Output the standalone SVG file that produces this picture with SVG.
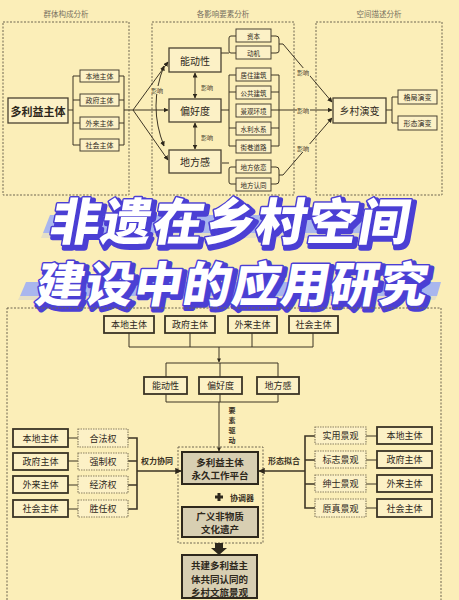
<svg xmlns="http://www.w3.org/2000/svg" width="459" height="600" viewBox="0 0 459 600">
<defs>
<style>
.t{font-family:"Noto Sans CJK SC","Liberation Sans",sans-serif;fill:#2e281c;text-anchor:middle;dominant-baseline:central}
.cap{font-family:"Noto Sans CJK SC","Liberation Sans",sans-serif;fill:#777060;font-size:7.5px;text-anchor:middle;dominant-baseline:central}
.lab{font-family:"Noto Sans CJK SC","Liberation Sans",sans-serif;fill:#3a3325;font-size:6px;text-anchor:middle;dominant-baseline:central}
.lab2{font-family:"Noto Sans CJK SC","Liberation Sans",sans-serif;fill:#3a3325;font-size:8px;font-weight:bold;text-anchor:middle;dominant-baseline:central}
.lab3{font-family:"Noto Sans CJK SC","Liberation Sans",sans-serif;fill:#3a3325;font-size:7px;font-weight:bold;text-anchor:middle;dominant-baseline:central}
.dash{fill:none;stroke:#6e6650;stroke-width:1;stroke-dasharray:2 1.5}
.b{fill:#FCF1C6;stroke:#4a4232;stroke-width:1.3}
.bs{fill:#FCF1C6;stroke:#4a4232;stroke-width:1}
.bd{fill:#FCF1C6;stroke:#8a8062;stroke-width:1.2;stroke-dasharray:1.5 1}
.bt{fill:#FCF1C6;stroke:#3a3325;stroke-width:1.8}
.pf{fill:#D8CFB2;stroke:#2e281c;stroke-width:2}
.ln{fill:none;stroke:#3d3525;stroke-width:1}
.lnb{fill:none;stroke:#3d3525;stroke-width:1.6}
.title{font-family:"Noto Sans CJK SC",sans-serif;font-weight:900;text-anchor:middle}
</style>
<marker id="ah" viewBox="0 0 10 10" refX="9" refY="5" markerWidth="5" markerHeight="5" orient="auto-start-reverse">
<path d="M0,0 L10,5 L0,10 z" fill="#2e281c"/>
</marker>
<marker id="ahb" viewBox="0 0 10 10" refX="9" refY="5" markerWidth="4" markerHeight="4" orient="auto-start-reverse">
<path d="M0,0 L10,5 L0,10 z" fill="#2e281c"/>
</marker>
</defs>
<rect width="459" height="600" fill="#FBEEB8"/>

<!-- TOP SECTION -->
<g id="top-frames">
<text class="cap" x="66" y="13">群体构成分析</text>
<text class="cap" x="223" y="13">各影响要素分析</text>
<text class="cap" x="379" y="13">空间描述分析</text>
<rect class="dash" x="3" y="22" width="126" height="173"/>
<rect class="dash" x="152" y="22" width="142" height="173"/>
<rect class="dash" x="316" y="22" width="126" height="173"/>
</g>

<g id="connectors-top">
<path class="ln" d="M68,110 H73 M80,76 H73 V145 H80 M73,100 H80 M73,123 H80"/>
<path class="ln" d="M119,76 H124 V145 H119 M119,100 H124 M119,123 H124 M124,110 H133"/>
<line class="ln" x1="133" y1="110" x2="168" y2="62" marker-end="url(#ah)"/>
<line class="ln" x1="133" y1="110" x2="168" y2="110" marker-end="url(#ah)"/>
<line class="ln" x1="133" y1="110" x2="168" y2="160" marker-end="url(#ah)"/>
<path class="ln" d="M164,66 Q148,106 164,146" marker-start="url(#ah)" marker-end="url(#ah)"/>
<line class="ln" x1="195" y1="73" x2="195" y2="98" marker-start="url(#ah)" marker-end="url(#ah)"/>
<line class="ln" x1="195" y1="123" x2="195" y2="149" marker-start="url(#ah)" marker-end="url(#ah)"/>
<path class="ln" d="M221,53 H229 M236,36 H231 Q229,36 229,38 V51 Q229,53 231,53 H236"/>
<path class="ln" d="M221,110 H229 M236,75 H229 V146 H236 M229,92 H236 M229,128 H236"/>
<path class="ln" d="M222,163 H229 M236,167 H231 Q229,167 229,169 V182 Q229,184 231,184 H236"/>
<path class="ln" d="M271,36 H276 Q279,36 279,39 V51 Q279,53 276,53 H271 M279,44 H283"/>
<path class="ln" d="M271,75 H279 V146 H271 M271,92 H279 M271,110 H279 M271,128 H279"/>
<path class="ln" d="M271,167 H276 Q279,167 279,170 V181 Q279,184 276,184 H271 M279,175 H283"/>
<line class="ln" x1="283" y1="44" x2="332" y2="102" marker-end="url(#ah)"/>
<line class="ln" x1="279" y1="110" x2="332" y2="110" marker-end="url(#ah)"/>
<line class="ln" x1="283" y1="175" x2="332" y2="118" marker-end="url(#ah)"/>
<path class="ln" d="M386,110 H392 M398,97 H392 V123 H398"/>
<rect x="151" y="86" width="12" height="8" fill="#FBEEB8"/>
<text class="lab" x="157" y="90">影响</text>
<text class="lab" x="207" y="87">影响</text>
<text class="lab" x="207" y="137">影响</text>
<rect x="297" y="68" width="13" height="8" fill="#FBEEB8"/>
<text class="lab" x="303" y="72">影响</text>
<rect x="297" y="106" width="13" height="8" fill="#FBEEB8"/>
<text class="lab" x="303" y="110">影响</text>
<rect x="297" y="144" width="13" height="8" fill="#FBEEB8"/>
<text class="lab" x="303" y="148">影响</text>
</g>

<g id="n-duoliyi"><rect class="b" x="8" y="98" width="60" height="25"/><text class="t" x="38" y="110.5" font-size="11" font-weight="bold">多利益主体</text></g>
<g id="n-bendi1"><rect class="bs" x="80" y="70" width="39" height="12"/><text class="t" x="99.5" y="76" font-size="7">本地主体</text></g>
<g id="n-zhengfu1"><rect class="bs" x="80" y="94" width="39" height="12"/><text class="t" x="99.5" y="100" font-size="7">政府主体</text></g>
<g id="n-wailai1"><rect class="bs" x="80" y="117" width="39" height="12"/><text class="t" x="99.5" y="123" font-size="7">外来主体</text></g>
<g id="n-shehui1"><rect class="bs" x="80" y="139" width="39" height="12"/><text class="t" x="99.5" y="145" font-size="7">社会主体</text></g>

<g id="n-nengdong1"><rect class="b" x="169" y="48" width="52" height="24"/><text class="t" x="195" y="60" font-size="10">能动性</text></g>
<g id="n-pianhao1"><rect class="b" x="169" y="99" width="52" height="23"/><text class="t" x="195" y="110.5" font-size="10">偏好度</text></g>
<g id="n-difang1"><rect class="b" x="169" y="150" width="52" height="23"/><text class="t" x="195" y="161.5" font-size="10">地方感</text></g>

<g id="n-ziben"><rect class="bs" x="236" y="29" width="35" height="13"/><text class="t" x="253.5" y="35.5" font-size="6.5">资本</text></g>
<g id="n-dongji"><rect class="bs" x="236" y="46" width="35" height="13"/><text class="t" x="253.5" y="52.5" font-size="6.5">动机</text></g>
<g id="n-juzhu"><rect class="bs" x="236" y="68" width="35" height="13"/><text class="t" x="253.5" y="74.5" font-size="6.5">居住建筑</text></g>
<g id="n-gonggong"><rect class="bs" x="236" y="86" width="35" height="13"/><text class="t" x="253.5" y="92.5" font-size="6.5">公共建筑</text></g>
<g id="n-jingguan"><rect class="bs" x="236" y="104" width="35" height="13"/><text class="t" x="253.5" y="110.5" font-size="6.5">景观环境</text></g>
<g id="n-shuili"><rect class="bs" x="236" y="122" width="35" height="13"/><text class="t" x="253.5" y="128.5" font-size="6.5">水利水系</text></g>
<g id="n-jiexiang"><rect class="bs" x="236" y="140" width="35" height="13"/><text class="t" x="253.5" y="146.5" font-size="6.5">街巷道路</text></g>
<g id="n-yilian"><rect class="bs" x="236" y="160" width="35" height="13"/><text class="t" x="253.5" y="166.5" font-size="6.5">地方依恋</text></g>
<g id="n-rentong"><rect class="bs" x="236" y="178" width="35" height="13"/><text class="t" x="253.5" y="184.5" font-size="6.5">地方认同</text></g>

<g id="n-xiangcun"><rect class="b" x="333" y="98" width="53" height="25"/><text class="t" x="359.5" y="110.5" font-size="10">乡村演变</text></g>
<g id="n-geju"><rect class="bs" x="398" y="90" width="39" height="14"/><text class="t" x="417.5" y="97" font-size="7">格局演变</text></g>
<g id="n-xingtai"><rect class="bs" x="398" y="116" width="39" height="14"/><text class="t" x="417.5" y="123" font-size="7">形态演变</text></g>

<!-- TITLE -->
<g id="title">
<polygon points="50,215 412,215 406,233 43,233" fill="#A9B6EE"/>
<polygon points="43,233 406,233 404,238 41,238" fill="#DCD8CC" opacity="0.7"/>
<polygon points="26,282 441,282 437,296 20,296" fill="#A9B6EE"/>
<polygon points="20,296 437,296 435,300 18,300" fill="#DCD8CC" opacity="0.7"/>
<g transform="translate(228,240) skewX(-10)">
<text class="title" x="3" y="3" font-size="50" letter-spacing="1.5" fill="#4B3FD4" stroke="#4B3FD4" stroke-width="6" stroke-linejoin="round">非遗在乡村空间</text>
<text class="title" x="0" y="0" font-size="50" letter-spacing="1.5" fill="#FFFFFF" stroke="#4B3FD4" stroke-width="3" stroke-linejoin="round" paint-order="stroke">非遗在乡村空间</text>
</g>
<g transform="translate(230,302) skewX(-10)">
<text class="title" x="3" y="3" font-size="48" letter-spacing="1" fill="#4B3FD4" stroke="#4B3FD4" stroke-width="6" stroke-linejoin="round">建设中的应用研究</text>
<text class="title" x="0" y="0" font-size="48" letter-spacing="1" fill="#FFFFFF" stroke="#4B3FD4" stroke-width="3" stroke-linejoin="round" paint-order="stroke">建设中的应用研究</text>
</g>
</g>

<!-- BOTTOM SECTION -->
<rect class="dash" x="7" y="308" width="434" height="300"/>

<g id="connectors-bottom">
<path class="ln" d="M129,333 V347 M190,333 V347 M252,333 V347 M313,333 V347 M129,347 H313"/>
<line class="ln" x1="219" y1="347" x2="219" y2="362" marker-end="url(#ahb)"/>
<path class="ln" d="M166,377 V363 H278 V377 M220,363 V377"/>
<path class="ln" d="M166,394 V402 H278 V394 M220,394 V402"/>
<line class="ln" x1="219" y1="402" x2="219" y2="451" marker-end="url(#ahb)"/>
<text class="lab3" x="232" y="410">要</text>
<text class="lab3" x="232" y="420">素</text>
<text class="lab3" x="232" y="430">驱</text>
<text class="lab3" x="232" y="440">动</text>
<rect class="dash" x="178" y="447" width="85" height="96"/>
<path class="ln" d="M68,438 H78 M68,461 H78 M68,485 H78 M68,509 H78"/>
<path class="lnb" d="M128,438 H137 V509 H128 M128,461 H137 M128,485 H137"/>
<line class="lnb" x1="137" y1="471" x2="181" y2="471" marker-end="url(#ahb)"/>
<text class="lab2" x="157" y="460">权力协同</text>
<path class="ln" d="M366,436 H377 M366,460 H377 M366,484 H377 M366,508 H377"/>
<path class="lnb" d="M315,436 H305 V508 H315 M315,460 H305 M315,484 H305"/>
<line class="lnb" x1="305" y1="471" x2="259" y2="471" marker-end="url(#ahb)"/>
<text class="lab2" x="284" y="460">形态拟合</text>
<path d="M215,497 H223 M219,493 V501" stroke="#2e281c" stroke-width="3" fill="none"/>
<text class="lab2" x="242" y="497">协调器</text>
<path d="M215,543 H223 V548 H227 L219,555 L211,548 H215 Z" fill="#2e281c"/>
</g>

<g id="n-bendi2"><rect class="bt" x="104" y="316" width="50" height="17"/><text class="t" x="129" y="324.5" font-size="9">本地主体</text></g>
<g id="n-zhengfu2"><rect class="bt" x="165" y="316" width="50" height="17"/><text class="t" x="190" y="324.5" font-size="9">政府主体</text></g>
<g id="n-wailai2"><rect class="bt" x="228" y="316" width="49" height="17"/><text class="t" x="252.5" y="324.5" font-size="9">外来主体</text></g>
<g id="n-shehui2"><rect class="bt" x="289" y="316" width="49" height="17"/><text class="t" x="313.5" y="324.5" font-size="9">社会主体</text></g>

<g id="n-nengdong2"><rect class="bt" x="144" y="377" width="43" height="17"/><text class="t" x="165.5" y="385.5" font-size="9">能动性</text></g>
<g id="n-pianhao2"><rect class="bt" x="199" y="377" width="43" height="17"/><text class="t" x="220.5" y="385.5" font-size="9">偏好度</text></g>
<g id="n-difang2"><rect class="bt" x="257" y="377" width="42" height="17"/><text class="t" x="278" y="385.5" font-size="9">地方感</text></g>

<g id="n-l-bendi"><rect class="bt" x="13" y="429" width="55" height="18"/><text class="t" x="40.5" y="438" font-size="9">本地主体</text></g>
<g id="n-l-zhengfu"><rect class="bt" x="13" y="453" width="55" height="17"/><text class="t" x="40.5" y="461.5" font-size="9">政府主体</text></g>
<g id="n-l-wailai"><rect class="bt" x="13" y="476" width="55" height="17"/><text class="t" x="40.5" y="484.5" font-size="9">外来主体</text></g>
<g id="n-l-shehui"><rect class="bt" x="13" y="500" width="55" height="17"/><text class="t" x="40.5" y="508.5" font-size="9">社会主体</text></g>

<g id="n-hefa"><rect class="bd" x="78" y="429" width="50" height="18"/><text class="t" x="103" y="438" font-size="9">合法权</text></g>
<g id="n-qiangzhi"><rect class="bd" x="78" y="453" width="50" height="17"/><text class="t" x="103" y="461.5" font-size="9">强制权</text></g>
<g id="n-jingji"><rect class="bd" x="78" y="476" width="50" height="17"/><text class="t" x="103" y="484.5" font-size="9">经济权</text></g>
<g id="n-shengren"><rect class="bd" x="78" y="500" width="50" height="17"/><text class="t" x="103" y="508.5" font-size="9">胜任权</text></g>

<g id="n-shiyong"><rect class="bd" x="315" y="427" width="51" height="17"/><text class="t" x="340.5" y="435.5" font-size="9">实用景观</text></g>
<g id="n-biaozhi"><rect class="bd" x="315" y="451" width="51" height="17"/><text class="t" x="340.5" y="459.5" font-size="9">标志景观</text></g>
<g id="n-shenshi"><rect class="bd" x="315" y="475" width="51" height="17"/><text class="t" x="340.5" y="483.5" font-size="9">绅士景观</text></g>
<g id="n-yuanzhen"><rect class="bd" x="315" y="499" width="51" height="18"/><text class="t" x="340.5" y="508" font-size="9">原真景观</text></g>

<g id="n-r-bendi"><rect class="bt" x="377" y="427" width="55" height="17"/><text class="t" x="404.5" y="435.5" font-size="9">本地主体</text></g>
<g id="n-r-zhengfu"><rect class="bt" x="377" y="451" width="55" height="17"/><text class="t" x="404.5" y="459.5" font-size="9">政府主体</text></g>
<g id="n-r-wailai"><rect class="bt" x="377" y="475" width="55" height="17"/><text class="t" x="404.5" y="483.5" font-size="9">外来主体</text></g>
<g id="n-r-shehui"><rect class="bt" x="377" y="499" width="55" height="18"/><text class="t" x="404.5" y="508" font-size="9">社会主体</text></g>

<g id="n-platform"><rect class="pf" x="182" y="452" width="76" height="32"/><text class="t" x="220" y="461.5" font-size="9.5" font-weight="bold">多利益主体</text><text class="t" x="220" y="475" font-size="9.5" font-weight="bold">永久工作平台</text></g>
<g id="n-feiyi"><rect class="pf" x="182" y="507" width="76" height="30"/><text class="t" x="220" y="515.5" font-size="9.5" font-weight="bold">广义非物质</text><text class="t" x="220" y="529" font-size="9.5" font-weight="bold">文化遗产</text></g>
<g id="n-gongjian"><rect class="pf" x="182" y="555" width="75" height="43"/><text class="t" x="219.5" y="565" font-size="9.5" font-weight="bold">共建多利益主</text><text class="t" x="219.5" y="578.5" font-size="9.5" font-weight="bold">体共同认同的</text><text class="t" x="219.5" y="592" font-size="9.5" font-weight="bold">乡村文旅景观</text></g>
</svg>
